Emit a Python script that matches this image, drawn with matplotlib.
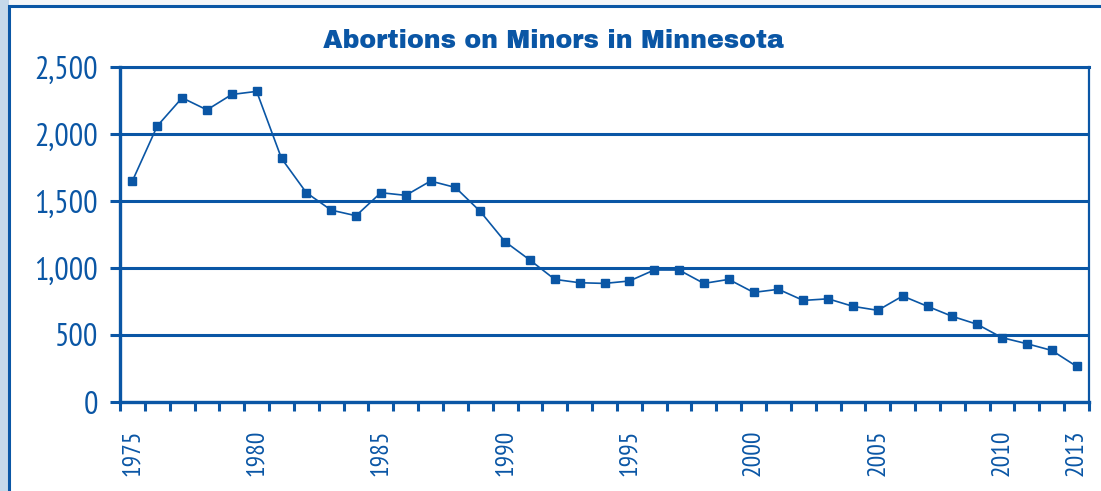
import matplotlib
matplotlib.use("Agg")
import matplotlib.pyplot as plt
from matplotlib.patches import Rectangle
from matplotlib import font_manager

years = list(range(1975, 2014))
abortions = [1650, 2060, 2270, 2180, 2295, 2318, 1818, 1562, 1432, 1390,
             1562, 1542, 1649, 1601, 1422, 1196, 1059, 915, 890, 885,
             903, 985, 985, 885, 915, 818, 841, 758, 770, 714,
             684, 791, 714, 639, 580, 480, 435, 385, 266]
label_years = [1975, 1980, 1985, 1990, 1995, 2000, 2005, 2010, 2013]
y_ticks = [0, 500, 1000, 1500, 2000, 2500]
y_labels = ["0", "500", "1,000", "1,500", "2,000", "2,500"]
title = "Abortions on Minors in Minnesota"

BLUE = "#0a56a5"
names = {f.name for f in font_manager.fontManager.ttflist}
narrow = next((n for n in ["PT Sans Narrow", "Roboto Condensed", "Fira Sans Condensed"]
               if n in names), "DejaVu Sans")
tfont = "Archivo Black" if "Archivo Black" in names else "DejaVu Sans"

W, H = 1101, 491
fig = plt.figure(figsize=(W / 100, H / 100), dpi=100)
fig.patch.set_facecolor("#f4f6f9")
fig.add_artist(Rectangle((0, 0), 9 / W, 1, transform=fig.transFigure,
                         facecolor="#c5d8ea", edgecolor="none", zorder=-3))
fig.add_artist(Rectangle((9 / W, -0.05), 1.2, 1 - 6 / H + 0.05, transform=fig.transFigure,
                         facecolor="white", edgecolor=BLUE, linewidth=2.2, zorder=-2))

ax = fig.add_axes([120 / W, (H - 402) / H, (1089 - 120) / W, (402 - 67) / H])
ax.set_facecolor("white")
x = list(range(len(years)))
ax.plot(x, abortions, color=BLUE, linewidth=1.2, marker="s", markersize=6,
        markerfacecolor=BLUE, markeredgecolor=BLUE, zorder=3)

ax.set_xlim(-0.5, len(years) - 0.5)
ax.set_ylim(0, 2500)
ax.set_yticks(y_ticks)
ax.set_yticklabels(y_labels, fontfamily=narrow, fontweight="normal", fontsize=23, color=BLUE)
ax.yaxis.grid(True, color=BLUE, linewidth=2.2, zorder=1)
ax.set_axisbelow(True)
ax.tick_params(axis="y", length=7.2, width=2.2, color=BLUE, pad=8.6, direction="out")

ax.set_xticks([years.index(y) for y in label_years])
ax.set_xticklabels([str(y) for y in label_years], rotation=90, fontfamily=narrow,
                   fontweight="normal", fontsize=18.5, color=BLUE)
ax.tick_params(axis="x", which="major", length=0, pad=20)
ax.set_xticks([i - 0.5 for i in range(len(years) + 1)], minor=True)
ax.tick_params(axis="x", which="minor", length=6.5, width=2.2, color=BLUE, direction="out")

for s in ["left", "bottom"]:
    ax.spines[s].set_color(BLUE)
    ax.spines[s].set_linewidth(2.4)
ax.spines["right"].set_color(BLUE)
ax.spines["right"].set_linewidth(1.6)
ax.spines["top"].set_color(BLUE)
ax.spines["top"].set_linewidth(2.2)

fig.text(553 / W, (H - 41) / H, title, ha="center", va="center", fontsize=18.2,
         color=BLUE, fontfamily=tfont)

fig.savefig("out.png", dpi=100, facecolor=fig.get_facecolor())
